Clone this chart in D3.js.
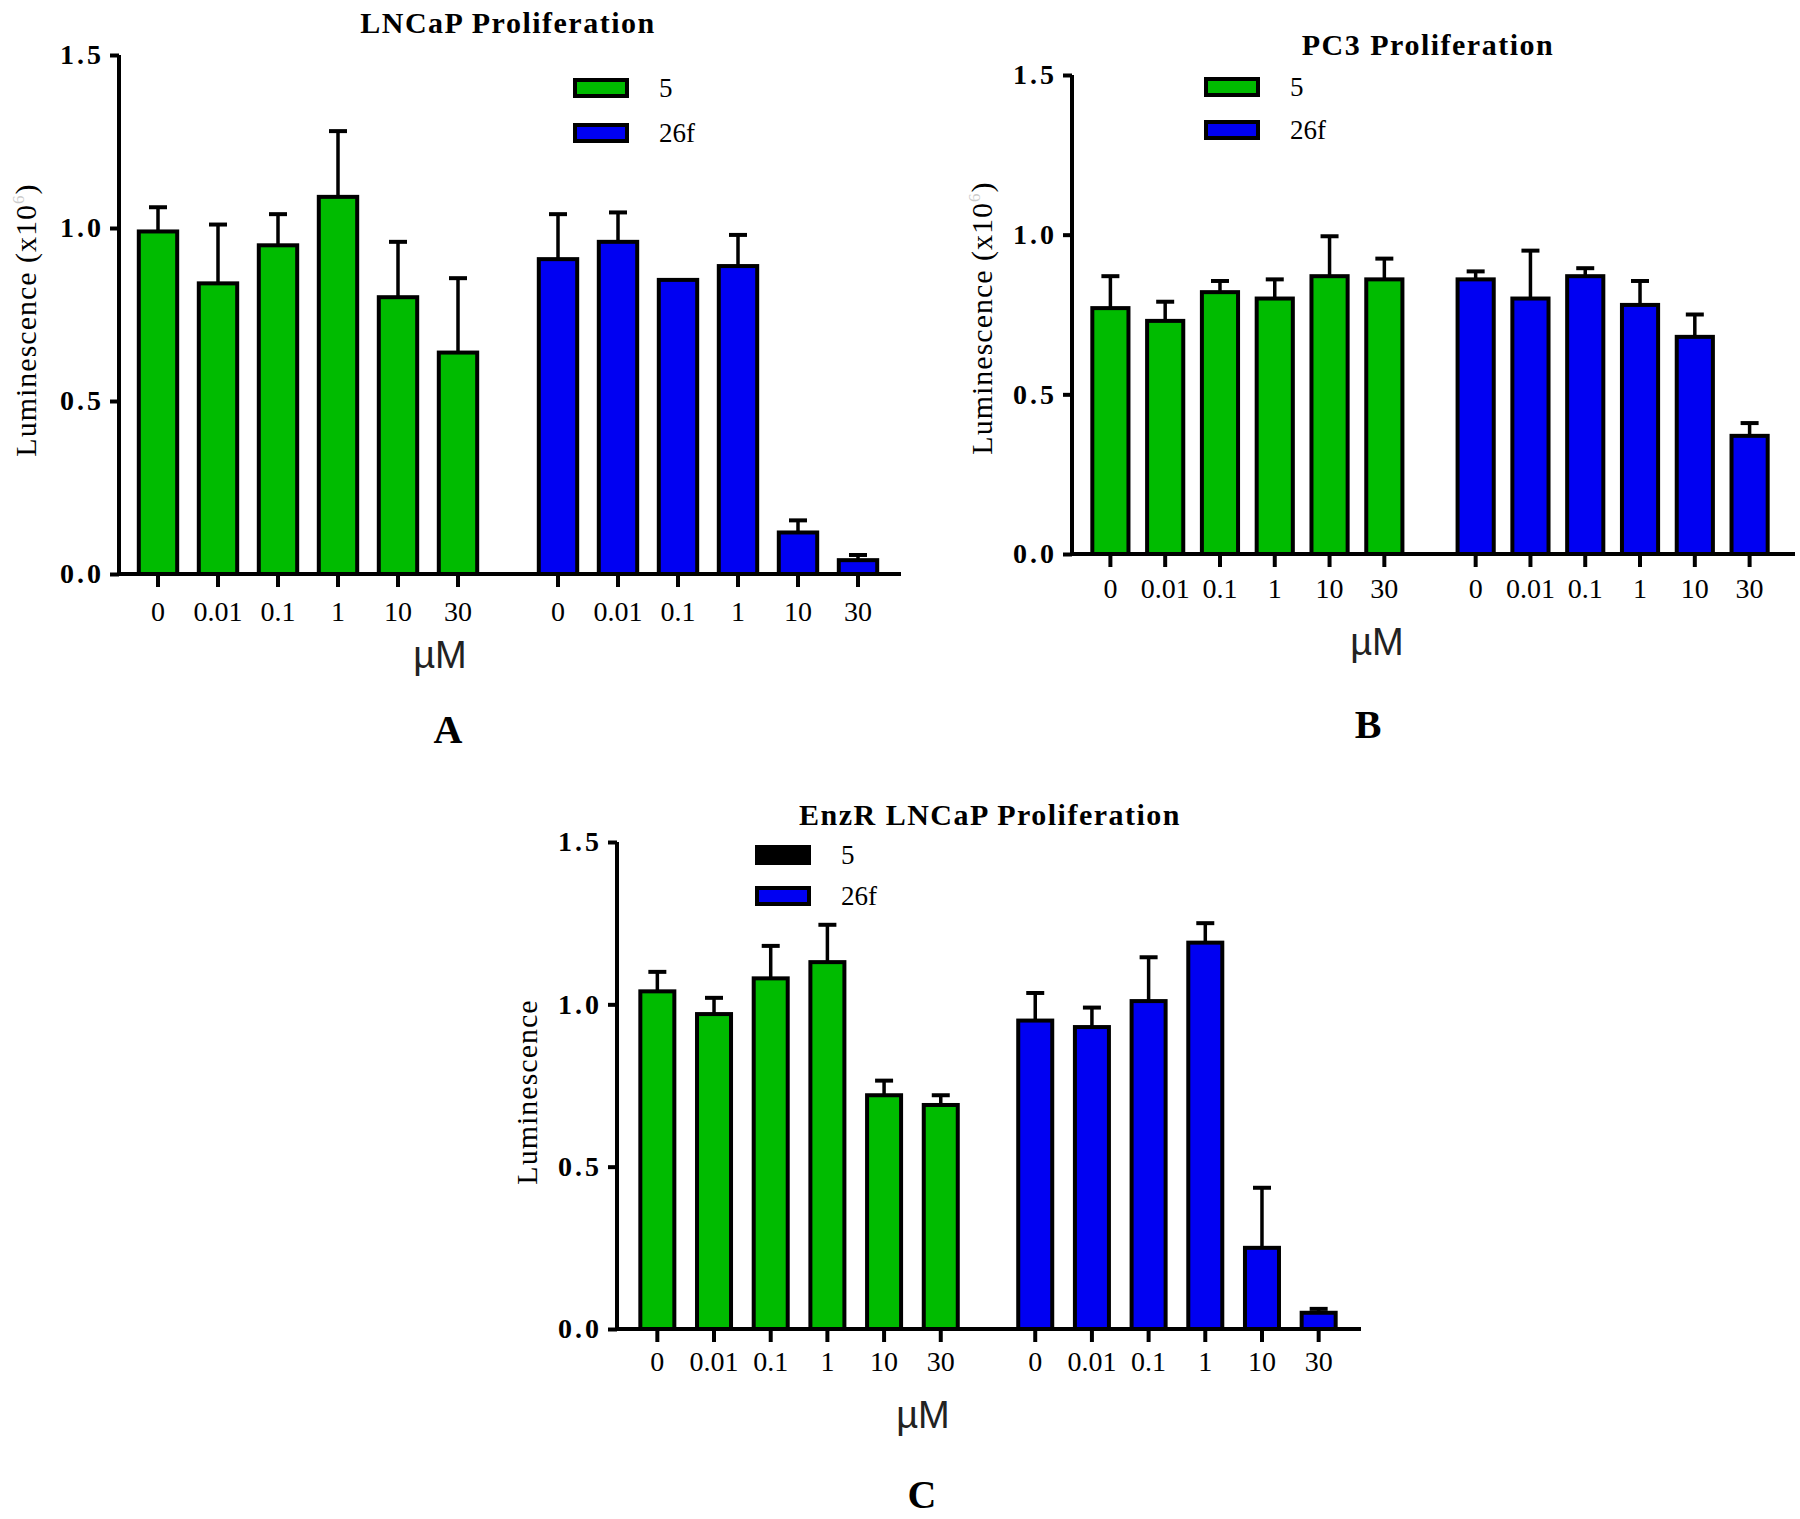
<!DOCTYPE html>
<html>
<head>
<meta charset="utf-8">
<script src="https://cdn.jsdelivr.net/npm/d3@7"></script>
<style>
  body { margin: 0; background: #fff; }
</style>
</head>
<body>
<script>
// doses and compounds
var doses = ["0", "0.01", "0.1", "1", "10", "30"];
var compounds = ["5", "26f"];
var yTicks = [0, 0.5, 1.0, 1.5];

// A: LNCaP
var lncapMean5 = [0.99, 0.84, 0.95, 1.09, 0.80, 0.64];
var lncapErr5 = [0.07, 0.17, 0.09, 0.19, 0.16, 0.215];
var lncapMean26f = [0.91, 0.96, 0.85, 0.89, 0.12, 0.04];
var lncapErr26f = [0.13, 0.085, 0, 0.09, 0.035, 0.015];

// B: PC3
var pc3Mean5 = [0.77, 0.73, 0.82, 0.80, 0.87, 0.86];
var pc3Err5 = [0.10, 0.06, 0.035, 0.06, 0.125, 0.065];
var pc3Mean26f = [0.86, 0.80, 0.87, 0.78, 0.68, 0.37];
var pc3Err26f = [0.025, 0.15, 0.025, 0.075, 0.07, 0.04];

// C: EnzR LNCaP
var enzMean5 = [1.04, 0.97, 1.08, 1.13, 0.72, 0.69];
var enzErr5 = [0.06, 0.05, 0.10, 0.115, 0.045, 0.03];
var enzMean26f = [0.95, 0.93, 1.01, 1.19, 0.25, 0.05];
var enzErr26f = [0.085, 0.06, 0.135, 0.06, 0.185, 0.012];

var green = "#00bb00", blue = "#0000f2";
var serif = "Liberation Serif, Times New Roman, serif";

var svg = d3.select("body").append("svg")
	.attr("width", 1800)
	.attr("height", 1519)
	.attr("font-family", serif);
svg.append("rect").attr("width", 1800).attr("height", 1519).attr("fill", "#fff");

function drawPanel(p){
	var g = svg.append("g");

	var y = d3.scaleLinear().domain([0, 1.5]).range([p.yZero, p.yTop]);
	var outer = d3.scaleBand().domain(compounds).range([p.gx0, p.gx1]).paddingInner(0.1);
	var inner = d3.scaleBand().domain(doses).range([0, outer.bandwidth()])
		.paddingInner(p.pad).paddingOuter(p.pad / 2);

	var rows = [];
	compounds.forEach(function(c, ci){
		doses.forEach(function(d, di){
			rows.push({comp: c, dose: d, mean: p.means[ci][di], err: p.errs[ci][di], color: ci === 0 ? green : blue});
		});
	});
	var cx = function(r){ return outer(r.comp) + inner(r.dose) + inner.bandwidth() / 2; };

	// error bars (upper only)
	g.selectAll("line.err").data(rows.filter(function(r){ return r.err > 0; }))
		.enter().append("line")
		.attr("x1", cx).attr("x2", cx)
		.attr("y1", function(r){ return y(r.mean); })
		.attr("y2", function(r){ return y(r.mean + r.err); })
		.attr("stroke", "#000").attr("stroke-width", 3.5);
	g.selectAll("line.cap").data(rows.filter(function(r){ return r.err > 0; }))
		.enter().append("line")
		.attr("x1", function(r){ return cx(r) - 9; })
		.attr("x2", function(r){ return cx(r) + 9; })
		.attr("y1", function(r){ return y(r.mean + r.err); })
		.attr("y2", function(r){ return y(r.mean + r.err); })
		.attr("stroke", "#000").attr("stroke-width", 4);

	// bars
	g.selectAll("rect.bar").data(rows)
		.enter().append("rect")
		.attr("x", function(r){ return cx(r) - inner.bandwidth() / 2; })
		.attr("y", function(r){ return y(r.mean); })
		.attr("width", inner.bandwidth())
		.attr("height", function(r){ return y(0) - y(r.mean); })
		.attr("fill", function(r){ return r.color; })
		.attr("stroke", "#000").attr("stroke-width", 4);

	// y axis
	var yAxis = g.append("g")
		.attr("transform", "translate(" + p.ax0 + ",0)")
		.call(d3.axisLeft(y).tickValues(yTicks).tickFormat(d3.format(".1f")).tickSize(9).tickPadding(6));
	yAxis.select(".domain").attr("stroke-width", 4).attr("d", "M0," + (p.yZero + 2) + "V" + p.yTop);
	yAxis.selectAll(".tick line").attr("stroke-width", 4);
	yAxis.selectAll(".tick text")
		.attr("font-family", serif).attr("font-weight", "bold")
		.attr("font-size", 28).attr("fill", "#000").attr("letter-spacing", 3);

	// x axis line
	g.append("line")
		.attr("x1", p.ax0 - 2).attr("x2", p.ax1)
		.attr("y1", y(0)).attr("y2", y(0))
		.attr("stroke", "#000").attr("stroke-width", 4);
	g.selectAll("line.xt").data(rows)
		.enter().append("line")
		.attr("x1", cx).attr("x2", cx)
		.attr("y1", y(0)).attr("y2", y(0) + 13)
		.attr("stroke", "#000").attr("stroke-width", 4);
	g.selectAll("text.xl").data(rows)
		.enter().append("text")
		.attr("x", cx).attr("y", p.xLabelY)
		.attr("text-anchor", "middle")
		.attr("font-size", 28)
		.text(function(r){ return r.dose; });

	// titles and labels
	g.append("text")
		.attr("x", p.title[0]).attr("y", p.title[1])
		.attr("text-anchor", "middle").attr("font-weight", "bold").attr("font-size", 30)
		.attr("letter-spacing", 1.5)
		.text(p.titleText);

	var yl = g.append("text")
		.attr("transform", "translate(" + p.ylab[0] + "," + p.ylab[1] + ") rotate(-90)")
		.attr("text-anchor", "middle").attr("font-size", 30).attr("letter-spacing", 1)
		.text(p.yLabelText);
	if(p.sup){
		yl.append("tspan").text(" (x10");
		yl.append("tspan").attr("font-size", 17).attr("dy", -12).attr("fill", "#ccc").text("6");
		yl.append("tspan").attr("dy", 12).text(")");
	}

	g.append("text")
		.attr("x", p.um[0]).attr("y", p.um[1])
		.attr("text-anchor", "middle")
		.attr("font-family", "Liberation Sans, Arial, sans-serif").attr("font-size", 38)
		.attr("fill", "#222")
		.text("µM");

	g.append("text")
		.attr("x", p.letter[0]).attr("y", p.letter[1])
		.attr("text-anchor", "middle").attr("font-weight", "bold").attr("font-size", 40)
		.text(p.letterText);

	// legend
	var leg = g.selectAll("g.leg").data(compounds).enter().append("g")
		.attr("transform", function(d, i){ return "translate(" + p.legend[0] + "," + (p.legend[1] + i * p.legend[2]) + ")"; });
	leg.append("rect")
		.attr("width", 52).attr("height", 16)
		.attr("fill", function(d, i){ return i === 0 ? p.legendFill5 : blue; })
		.attr("stroke", "#000").attr("stroke-width", 4);
	leg.append("text")
		.attr("x", 84).attr("y", 17)
		.attr("font-size", 27)
		.text(function(d){ return d; });
}

drawPanel({
	means: [lncapMean5, lncapMean26f], errs: [lncapErr5, lncapErr26f],
	yZero: 574, yTop: 55, ax0: 119, ax1: 901, gx0: 128, gx1: 888, pad: 0.36,
	xLabelY: 621, title: [508, 33], titleText: "LNCaP Proliferation",
	ylab: [36, 320], yLabelText: "Luminescence", sup: true,
	um: [440, 668], letter: [448, 743], letterText: "A",
	legend: [575, 80, 45], legendFill5: green
});

drawPanel({
	means: [pc3Mean5, pc3Mean26f], errs: [pc3Err5, pc3Err26f],
	yZero: 554, yTop: 75, ax0: 1072, ax1: 1795, gx0: 1083, gx1: 1777, pad: 0.34,
	xLabelY: 598, title: [1428, 55], titleText: "PC3 Proliferation",
	ylab: [992, 318], yLabelText: "Luminescence", sup: true,
	um: [1377, 655], letter: [1368, 738], letterText: "B",
	legend: [1206, 79, 43], legendFill5: green
});

drawPanel({
	means: [enzMean5, enzMean26f], errs: [enzErr5, enzErr26f],
	yZero: 1329, yTop: 842, ax0: 617, ax1: 1361, gx0: 629, gx1: 1347, pad: 0.4,
	xLabelY: 1371, title: [990, 825], titleText: "EnzR LNCaP  Proliferation",
	ylab: [537, 1092], yLabelText: "Luminescence", sup: false,
	um: [923, 1428], letter: [922, 1508], letterText: "C",
	legend: [757, 847, 41], legendFill5: "#000"
});
</script>
</body>
</html>
